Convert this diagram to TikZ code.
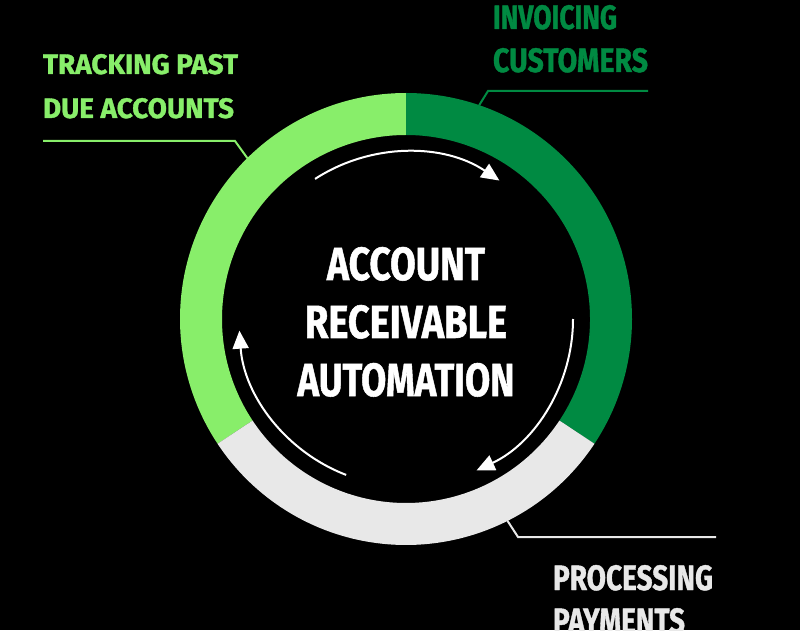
\documentclass[tikz,border=0pt]{standalone}
\usepackage{fontspec}
\usepackage{graphicx}
\setmainfont{Fira Sans}[BoldFeatures={FakeBold=1.2}]
\usetikzlibrary{arrows.meta,calc}
\definecolor{lgreen}{HTML}{88EE6A}
\definecolor{dgreen}{HTML}{008A42}
\definecolor{lgrey}{HTML}{E8E8E8}
\newcommand{\fitbox}[3]{\resizebox{#1pt}{#2pt}{\bfseries #3}}
\begin{document}
\begin{tikzpicture}[x=1pt,y=1pt,
  lbl/.style={inner sep=0pt, outer sep=0pt},
  cyc/.style={white, line width=2pt, -{Triangle[length=18pt,width=16pt]}},
  callout/.style={line width=2pt}]
\useasboundingbox (0,0) rectangle (800,630);
\fill[black] (0,0) rectangle (800,630);
\coordinate (C) at (406,311);
% ring segments
\fill[lgreen] ($(C)+(90:226)$) arc[start angle=90,end angle=213.5,radius=226]
  -- ($(C)+(213.5:184)$) arc[start angle=213.5,end angle=90,radius=184] -- cycle;
\fill[dgreen] ($(C)+(90:226)$) arc[start angle=90,end angle=-33.5,radius=226]
  -- ($(C)+(-33.5:184)$) arc[start angle=-33.5,end angle=90,radius=184] -- cycle;
\fill[lgrey] ($(C)+(-33.5:226)$) arc[start angle=-33.5,end angle=-146.5,radius=226]
  -- ($(C)+(-146.5:184)$) arc[start angle=-146.5,end angle=-33.5,radius=184] -- cycle;
% cycle arrows
\draw[cyc] ($(C)+(123:167)$) arc[start angle=123,end angle=56,radius=167];
\draw[cyc] ($(C)+(0:167)$) arc[start angle=0,end angle=-65,radius=167];
\draw[cyc] ($(C)+(249:167)$) arc[start angle=249,end angle=184,radius=167];
% center text
\node[lbl, anchor=base, text=white] (t1) at (406,350) {\fitbox{158}{33}{ACCOUNT}};
\node[lbl, anchor=base, text=white] (t2) at (406,292) {\fitbox{202}{33}{RECEIVABLE}};
\node[lbl, anchor=base, text=white] (t3) at (406,234) {\fitbox{217}{33}{AUTOMATION}};
% labels
\node[lbl, anchor=base west, text=lgreen] (tr1) at (43,556) {\fitbox{195}{20}{TRACKING PAST}};
\node[lbl, anchor=base west, text=lgreen] (tr2) at (43,512) {\fitbox{191}{20}{DUE ACCOUNTS}};
\node[lbl, anchor=base west, text=dgreen] (in1) at (493,601) {\fitbox{124}{24}{INVOICING}};
\node[lbl, anchor=base west, text=dgreen] (in2) at (493,558) {\fitbox{155}{24}{CUSTOMERS}};
\node[lbl, anchor=base west, text=lgrey] (pr1) at (553,40) {\fitbox{160}{25}{PROCESSING}};
\node[lbl, anchor=base west, text=lgrey] (pr2) at (553,-3) {\fitbox{132}{25}{PAYMENTS}};
% callout leaders
\coordinate (a1) at (43,489);
\coordinate (a2) at (235,489);
\coordinate (a3) at ($(C)+(134.6:226)$);
\draw[callout, lgreen] (a1) -- (a2) -- (a3);
\coordinate (b1) at (648,539);
\coordinate (b2) at (488,539);
\coordinate (b3) at ($(C)+(71.1:226)$);
\draw[callout, dgreen] (b1) -- (b2) -- (b3);
\coordinate (c1) at (716,93);
\coordinate (c2) at (518,93);
\coordinate (c3) at ($(C)+(-63.3:226)$);
\draw[callout, lgrey] (c1) -- (c2) -- (c3);
\end{tikzpicture}
\end{document}
